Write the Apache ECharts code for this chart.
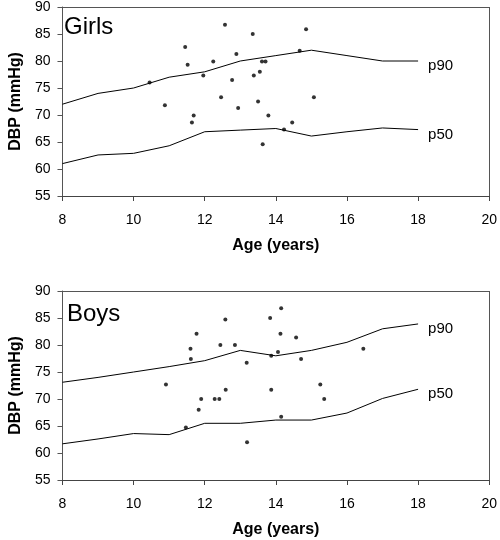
<!DOCTYPE html>
<html>
<head>
<meta charset="utf-8">
<script src="https://cdn.jsdelivr.net/npm/echarts@6/dist/echarts.min.js"></script>
<style>html,body{margin:0;padding:0;background:#fff}#c{width:500px;height:540px}</style>
</head>
<body>
<div id="c"></div>
<script>
const ages = [8, 9, 10, 11, 12, 13, 14, 15, 16, 17, 18];
const xTicks = [8, 10, 12, 14, 16, 18, 20];
const yTicks = [55, 60, 65, 70, 75, 80, 85, 90];

const girlsP90 = [72, 74, 75, 77, 78, 80, 81, 82, 81, 80, 80];
const girlsP50 = [61, 62.6, 62.9, 64.3, 66.9, 67.2, 67.5, 66.1, 66.9, 67.6, 67.3];
const boysP90 = [73.1, 74, 75, 76, 77.1, 79, 78, 79, 80.5, 83, 83.9];
const boysP50 = [61.7, 62.6, 63.6, 63.4, 65.5, 65.5, 66.1, 66.1, 67.4, 70.1, 71.8];

const girlsAge = [12.57, 13.35, 14.85, 11.45, 12.89, 14.67, 11.52, 12.24, 13.61, 13.71, 13.55, 11.96, 13.38, 12.77, 10.45, 12.46, 13.50, 15.07, 10.88, 12.94, 11.69, 13.79, 11.64, 14.46, 14.23, 13.63];
const girlsDBP = [86.7, 85.0, 85.9, 82.6, 81.3, 81.9, 79.3, 79.9, 79.9, 79.9, 78.0, 77.3, 77.3, 76.5, 76.0, 73.3, 72.5, 73.3, 71.8, 71.3, 69.9, 69.9, 68.6, 68.6, 67.3, 64.6];

const boysAge = [14.15, 12.58, 13.84, 11.77, 14.13, 14.57, 12.44, 12.85, 11.60, 16.46, 14.06, 13.87, 11.61, 14.71, 13.18, 10.91, 15.25, 12.59, 13.87, 11.90, 12.28, 12.41, 15.36, 11.83, 14.15, 11.47, 13.19];
const boysDBP = [86.8, 84.7, 85.0, 82.1, 82.1, 81.4, 80.0, 80.0, 79.3, 79.3, 78.7, 78.0, 77.4, 77.4, 76.7, 72.7, 72.7, 71.7, 71.7, 70.0, 70.0, 70.0, 70.0, 68.0, 66.7, 64.7, 62.0];

const panelNames = ['Girls', 'Boys'];
const curveNames = ['p90', 'p50'];

const FONT = 'Liberation Sans, Arial, Helvetica, sans-serif';
const BORDER = '#555';

// plot-area layout (pixels)
const PLOT = { left: 56, width: 435, height: 189, tops: [7, 291] };

function zip(xs, ys) { return xs.map((x, i) => [x, ys[i]]); }

function xAxis(idx) {
  return {
    gridIndex: idx, type: 'value', position: 'bottom', min: xTicks[0], max: xTicks[xTicks.length - 1], interval: 2,
    name: 'Age (years)', nameLocation: 'middle', nameGap: 42,
    nameTextStyle: { fontWeight: 'bold', fontSize: 16, color: '#000', fontFamily: FONT },
    axisLine: { show: true, onZero: false, lineStyle: { color: '#444', width: 1 } },
    axisTick: { show: true, inside: false, length: 5, lineStyle: { color: '#444' } },
    axisLabel: { show: true, margin: 17, fontSize: 14, color: '#000', fontFamily: FONT },
    splitLine: { show: false }
  };
}
function yAxis(idx) {
  return {
    gridIndex: idx, type: 'value', position: 'left', min: yTicks[0], max: yTicks[yTicks.length - 1], interval: 5,
    name: 'DBP (mmHg)', nameLocation: 'middle', nameGap: 36, nameRotate: 90,
    nameTextStyle: { fontWeight: 'bold', fontSize: 16, color: '#000', fontFamily: FONT },
    axisLine: { show: true, onZero: false, lineStyle: { color: BORDER, width: 1 } },
    axisTick: { show: true, inside: false, length: 5, lineStyle: { color: BORDER } },
    axisLabel: { show: true, margin: 12, fontSize: 14, color: '#000', fontFamily: FONT },
    splitLine: { show: false }
  };
}

const lineStyle = { color: '#000', width: 1 };
function lineSeries(idx, ys, name) {
  return { type: 'line', xAxisIndex: idx, yAxisIndex: idx, data: zip(ages, ys),
    showSymbol: false, symbol: 'none', lineStyle: lineStyle, itemStyle: { color: '#000' },
    endLabel: { show: true, formatter: name, distance: 10, offset: [0, 5], color: '#000', fontSize: 15, fontFamily: FONT },
    emphasis: { disabled: true }, silent: true };
}
function scatterSeries(idx, xs, ys) {
  return { type: 'scatter', xAxisIndex: idx, yAxisIndex: idx, data: zip(xs, ys),
    symbol: 'circle', symbolSize: 4, itemStyle: { color: '#000' }, silent: true,
    markLine: {
      silent: true, symbol: ['none', 'none'], label: { show: false }, animation: false,
      lineStyle: { color: BORDER, type: 'solid', width: 1 },
      emphasis: { disabled: true },
      data: [{ yAxis: yTicks[yTicks.length - 1] }, { xAxis: xTicks[xTicks.length - 1] }]
    } };
}

const chart = echarts.init(document.getElementById('c'), null, { renderer: 'canvas' });
chart.setOption({
  animation: false,
  backgroundColor: '#fff',
  title: [
    { text: panelNames[0], left: 64, top: 15, textStyle: { fontSize: 24, fontWeight: 'normal', color: '#000', fontFamily: FONT }, padding: 0 },
    { text: panelNames[1], left: 67, top: 302, textStyle: { fontSize: 24, fontWeight: 'normal', color: '#000', fontFamily: FONT }, padding: 0 }
  ],
  grid: PLOT.tops.map(t => ({ left: PLOT.left, top: t, width: PLOT.width, height: PLOT.height })),
  xAxis: [xAxis(0), xAxis(1)],
  yAxis: [yAxis(0), yAxis(1)],
  series: [
    lineSeries(0, girlsP90, curveNames[0]),
    lineSeries(0, girlsP50, curveNames[1]),
    scatterSeries(0, girlsAge, girlsDBP),
    lineSeries(1, boysP90, curveNames[0]),
    lineSeries(1, boysP50, curveNames[1]),
    scatterSeries(1, boysAge, boysDBP)
  ]
});
</script>
</body>
</html>
